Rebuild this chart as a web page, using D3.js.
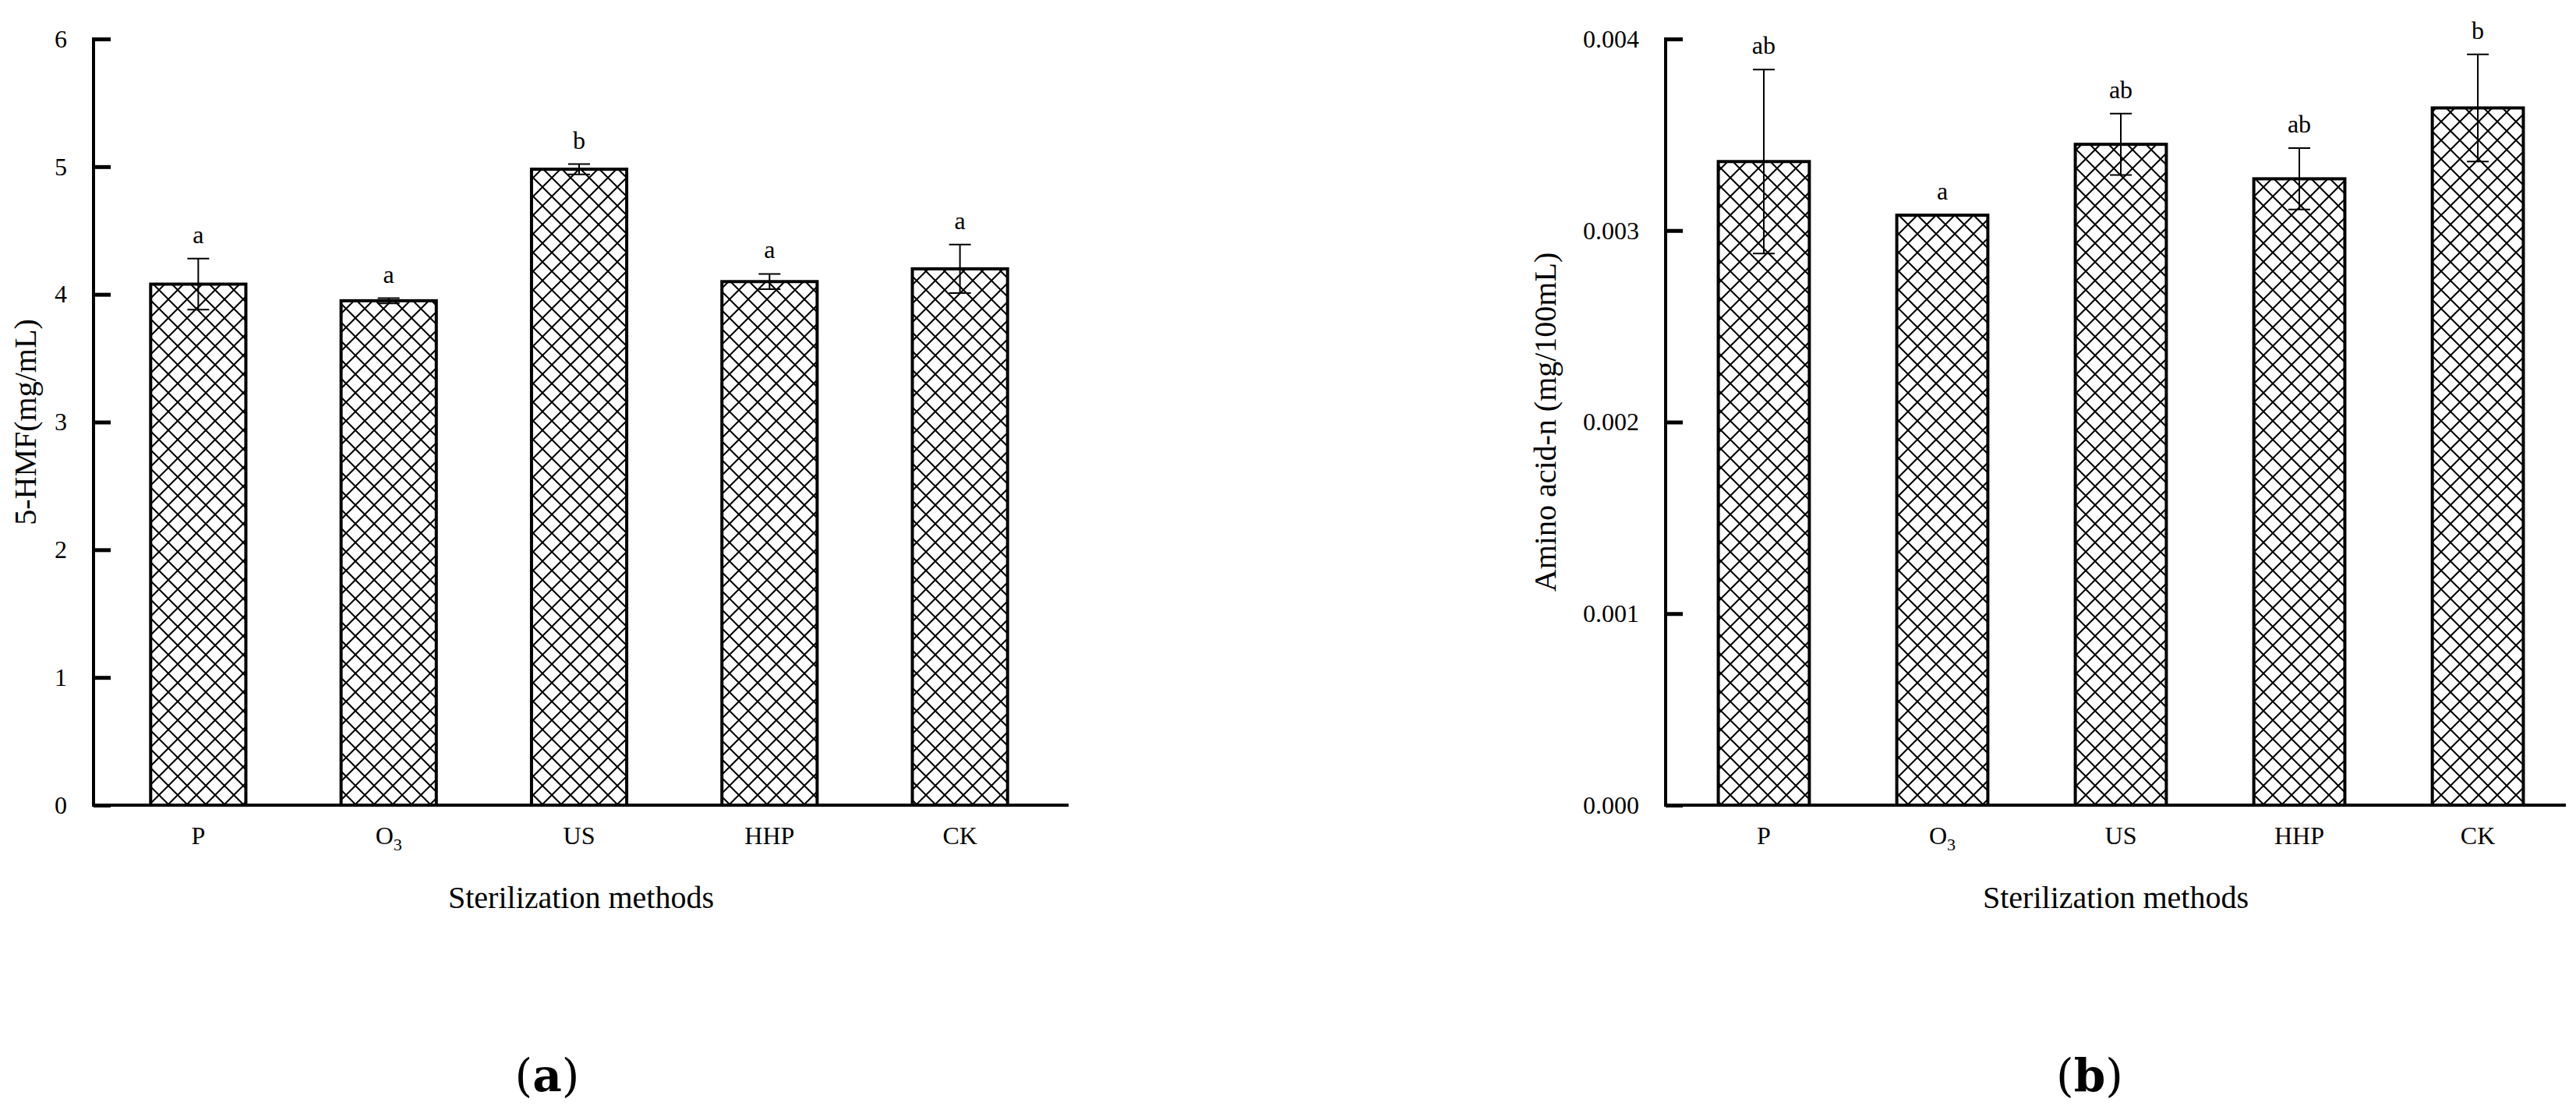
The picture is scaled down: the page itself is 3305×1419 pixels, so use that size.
<!DOCTYPE html><html><head><meta charset="utf-8"><script src="https://d3js.org/d3.v7.min.js"></script>
<style>body{margin:0;background:#fff}</style></head><body><script>
const categories=["P","O3","US","HHP","CK"];
const hmfValues=[4.08,3.95,4.98,4.10,4.20];
const hmfErr=[0.20,0.02,0.04,0.06,0.19];
const hmfLetters=["a","a","b","a","a"];
const aaValues=[0.00336,0.00308,0.00345,0.00327,0.00364];
const aaErr=[0.00048,0,0.00016,0.00016,0.00028];
const aaLetters=["ab","a","ab","ab","b"];
const hmfTicks=[0,1,2,3,4,5,6];
const aaTicks=[0,0.001,0.002,0.003,0.004];

const W=3305,H=1419,F="Liberation Serif";
const svg=d3.select("body").append("svg").attr("width",W).attr("height",H);
const defs=svg.append("defs");
const pat=defs.append("pattern").attr("id","hatch").attr("patternUnits","userSpaceOnUse").attr("width",24).attr("height",24);
pat.append("rect").attr("width",24).attr("height",24).attr("fill","#fff");
pat.append("path").attr("d","M-6,6L6,-6M0,24L24,0M18,30L30,18M-6,18L6,30M0,0L24,24M18,-6L30,6").attr("stroke","#000").attr("stroke-width",2);

function panel(o){
  const g=svg.append("g");
  const x=d3.scaleBand().domain(categories).range([o.x0,o.x1]).paddingInner(o.pad).paddingOuter(o.pad/2+0.05);
  const y=d3.scaleLinear().domain(o.dom).range([1033,50]);
  const ya=d3.axisLeft(y).tickValues(o.ticks).tickSize(-22).tickPadding(34).tickFormat(o.fmt);
  const ag=g.append("g").attr("transform",`translate(${o.x0},0)`).call(ya);
  ag.select(".domain").attr("stroke-width",4).attr("d",`M0,${y(o.dom[1])-2}V1035`);
  ag.selectAll(".tick line").attr("stroke-width",5);
  ag.selectAll("text").attr("font-family",F).attr("font-size",32).attr("fill","#000");
  g.append("line").attr("x1",o.x0-2).attr("x2",o.xend).attr("y1",1033).attr("y2",1033).attr("stroke","#000").attr("stroke-width",4);
  categories.forEach((c,i)=>{
    const bx=x(c),bw=x.bandwidth(),cx=bx+bw/2,v=o.vals[i],e=o.err[i];
    g.append("rect").attr("x",bx).attr("y",y(v)).attr("width",bw).attr("height",1033-y(v)).attr("fill","url(#hatch)").attr("stroke","#000").attr("stroke-width",4);
    if(e>0){
      g.append("path").attr("d",`M${cx},${y(v+e)}V${y(v-e)}M${cx-14},${y(v+e)}H${cx+14}M${cx-14},${y(v-e)}H${cx+14}`).attr("stroke","#000").attr("stroke-width",2).attr("fill","none");
    }
    g.append("text").attr("x",cx).attr("y",y(v+e)-20).attr("text-anchor","middle").attr("font-family",F).attr("font-size",32).text(o.letters[i]);
    const t=g.append("text").attr("x",cx).attr("y",1083).attr("text-anchor","middle").attr("font-family",F).attr("font-size",32);
    if(c==="O3"){t.append("tspan").text("O");t.append("tspan").attr("font-size",22).attr("dy",8).text("3");}
    else t.text(c);
  });
  g.append("text").attr("x",(o.x0+o.xend)/2).attr("y",1165).attr("text-anchor","middle").attr("font-family",F).attr("font-size",40).text("Sterilization methods");
  g.append("text").attr("transform",`translate(${o.ytx},${(50+1033)/2}) rotate(-90)`).attr("text-anchor","middle").attr("font-family",F).attr("font-size",40).text(o.ytitle);
  const lt=g.append("text").attr("x",o.lx).attr("y",1400).attr("text-anchor","middle").attr("font-family","DejaVu Serif").attr("font-size",58);
  lt.append("tspan").text("(");lt.append("tspan").attr("font-weight","bold").text(o.lab);lt.append("tspan").text(")");
}
panel({x0:120,x1:1366,xend:1371,pad:0.5,dom:[0,6],ticks:hmfTicks,fmt:d3.format("d"),vals:hmfValues,err:hmfErr,letters:hmfLetters,ytx:46,ytitle:"5-HMF(mg/mL)",lx:702,lab:"a"});
panel({x0:2137,x1:3305,xend:3292,pad:0.49,dom:[0,0.004],ticks:aaTicks,fmt:d3.format(".3f"),vals:aaValues,err:aaErr,letters:aaLetters,ytx:1996,ytitle:"Amino acid-n (mg/100mL)",lx:2681,lab:"b"});
</script></body></html>
